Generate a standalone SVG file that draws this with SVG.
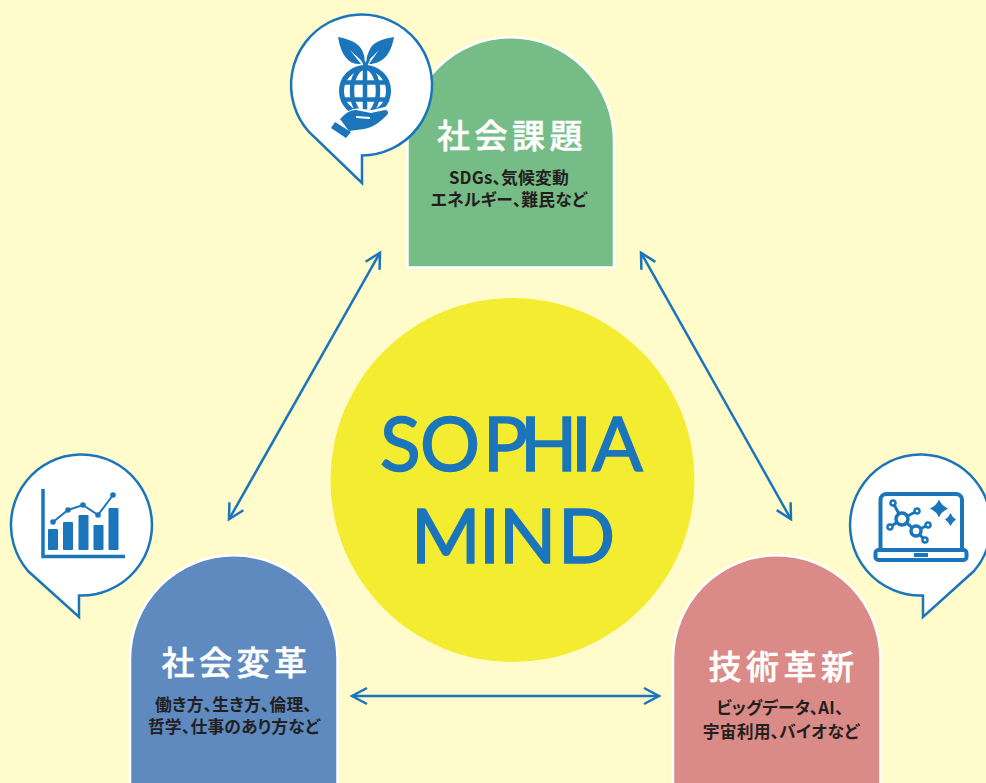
<svg xmlns="http://www.w3.org/2000/svg" width="986" height="783" viewBox="0 0 986 783">
<style>
.arch{stroke:#fff;stroke-width:2.5}
.bubble{fill:#fff;stroke:#1b75bb;stroke-width:2.5;stroke-linejoin:miter}
.ic{fill:#1b75bb}
.icl{fill:none;stroke:#1b75bb}
.t{font-family:"Noto Sans CJK JP",sans-serif;font-weight:500;font-size:33px;fill:#fff;stroke:#fff;stroke-width:.5px;text-anchor:middle;letter-spacing:4.5px}
.s{font-family:"Noto Sans CJK JP",sans-serif;font-weight:700;font-size:16.8px;fill:#231f20;text-anchor:middle;font-feature-settings:"palt";letter-spacing:.2px}
.m{font-family:"Lato",sans-serif;font-weight:400;font-size:75px;fill:#1b75bb;stroke:#1b75bb;stroke-width:1.6px}
.c{fill:none;stroke:#1b75bb;stroke-width:2.5;marker-start:url(#a);marker-end:url(#a)}
</style>
<defs>
<marker id="a" viewBox="-17 -10 21 20" refX="0" refY="0" markerWidth="21" markerHeight="20" markerUnits="userSpaceOnUse" orient="auto-start-reverse"><path d="M-15 -8L0 0L-15 8" fill="none" stroke="#1b75bb" stroke-width="2.5"/></marker>
</defs>
<rect width="986" height="783" fill="#fffbcb"/>
<g id="center"><circle cx="512.5" cy="480" r="182" fill="#f4ec30"/>
<text class="m" x="380 420 483 520 571 592" y="471">SOPHIA</text>
<text class="m" x="411 479 499 558" y="563">MIND</text></g>
<g id="connectors">
<path class="c" d="M380 252.700L229 519.300"/>
<path class="c" d="M641 252.700L791 519.300"/>
<path class="c" d="M352 696H659"/>
</g>
<g id="issues">
<path class="arch" fill="#76bc86" d="M407.500 267.500V140.500A103.250 103.250 0 0 1 614 140.500V267.500Z"/>
<text class="t" x="512" y="148">社会課題</text>
<text class="s" x="509" y="184">SDGs、気候変動</text>
<text class="s" x="509" y="206">エネルギー、難民など</text>
</g>
<g id="bubble-issues">
<path class="bubble" d="M362 155.500V183L309 132A70.500 70.500 0 1 1 362 155.500Z"/>
<path class="ic" d="M338 37C348 39 358 42 362 50C365 56 365 60 364 63L350 50L361 64C349 65 341 56 338 37Z"/>
<path class="ic" d="M394 37C384 39 374 41 370 49C367 55 366 59 367 62L379 50L369 64C382 64 391 55 394 37Z"/>
<path class="icl" stroke-width="3" d="M365.500 68C365 64 364 62 362 59M365.500 68C366 64 367 62 369 59"/>
<circle class="icl" stroke-width="5" cx="365" cy="91" r="23.500"/>
<ellipse class="icl" stroke-width="4.500" cx="365" cy="91" rx="13" ry="23.500"/>
<path class="icl" stroke-width="4.500" d="M365 66V116M341 82.500H389M341 99.500H389"/>
<path d="M336 122C346 110 354 107 362 109L372 110L389 106L392 114L372 132H345Z" fill="#fff"/>
<path class="ic" d="M340 119C346 113 350 110 356 110L371 113L385 110C388 110 389 113 387 115C382 120 375 127 364 129L349 131Z"/>
<path d="M356 117L370 118" stroke="#fff" stroke-width="1.800" fill="none"/>
<path class="ic" d="M335 122L351 132L346 138L331 128Z"/>
</g>
<g id="reform">
<path class="arch" fill="#5e8ac0" d="M130 785V659A103.750 103.750 0 0 1 337.500 659V785Z"/>
<text class="t" x="236.500" y="675">社会変革</text>
<text class="s" x="233.500" y="711">働き方、生き方、倫理、</text>
<text class="s" x="234" y="733">哲学、仕事のあり方など</text>
</g>
<g id="bubble-reform">
<path class="bubble" d="M79 595.500V617L28 571A70.500 70.500 0 1 1 79 595.500Z"/>
<path class="icl" stroke-width="3.500" d="M43 489V556.500H125"/>
<rect class="ic" x="48" y="529" width="10" height="21" rx="1"/>
<rect class="ic" x="63" y="522" width="10" height="28" rx="1"/>
<rect class="ic" x="78.500" y="515" width="10" height="35" rx="1"/>
<rect class="ic" x="93.500" y="525" width="10" height="25" rx="1"/>
<rect class="ic" x="108.500" y="508" width="10" height="42" rx="1"/>
<path class="icl" stroke-width="2" d="M53 522L68 510L83 505L98 515L113 495"/>
<circle class="ic" cx="53" cy="522" r="2.800"/><circle class="ic" cx="68" cy="510" r="2.800"/><circle class="ic" cx="83" cy="505" r="2.800"/><circle class="ic" cx="98" cy="515" r="2.800"/><circle class="ic" cx="113" cy="495" r="2.800"/>
</g>
<g id="tech">
<path class="arch" fill="#da8b87" d="M673 785V659A103.750 103.750 0 0 1 880.500 659V785Z"/>
<text class="t" x="783.500" y="679">技術革新</text>
<text class="s" x="780" y="714">ビッグデータ、AI、</text>
<text class="s" x="781" y="738">宇宙利用、バイオなど</text>
</g>
<g id="bubble-tech">
<path class="bubble" d="M923 595.500V617L974 571A70.500 70.500 0 1 0 923 595.500Z"/>
<path class="icl" stroke-width="4" d="M880.500 550V500A6 6 0 0 1 886.500 494H956A6 6 0 0 1 962 500V550"/>
<rect class="icl" stroke-width="4" x="875.500" y="550" width="91" height="10" rx="3"/>
<rect class="ic" x="914" y="553" width="14" height="4"/>
<path class="icl" stroke-width="3" d="M893 503L902 519L917 511M902 519L890 527M902 519L916 531L928 525M916 531L925 540"/>
<circle cx="902" cy="519" r="6" fill="#fff" stroke="#1b75bb" stroke-width="3.500"/>
<circle cx="916" cy="531" r="5" fill="#fff" stroke="#1b75bb" stroke-width="3.500"/>
<circle cx="893" cy="503" r="2.500" fill="#fff" stroke="#1b75bb" stroke-width="2.500"/>
<circle cx="917" cy="511" r="2.500" fill="#fff" stroke="#1b75bb" stroke-width="2.500"/>
<circle cx="890" cy="527" r="2.500" fill="#fff" stroke="#1b75bb" stroke-width="2.500"/>
<circle cx="928" cy="525" r="2.500" fill="#fff" stroke="#1b75bb" stroke-width="2.500"/>
<circle cx="925" cy="540" r="2.500" fill="#fff" stroke="#1b75bb" stroke-width="2.500"/>
<path class="ic" d="M939 499.500Q941 505 948 508.500Q941 512 939 517.500Q937 512 930 508.500Q937 505 939 499.500Z"/>
<path class="ic" d="M950.500 513Q952 517 956 519.500Q952 522 950.500 526Q949 522 945 519.500Q949 517 950.500 513Z"/>
</g>
</svg>
